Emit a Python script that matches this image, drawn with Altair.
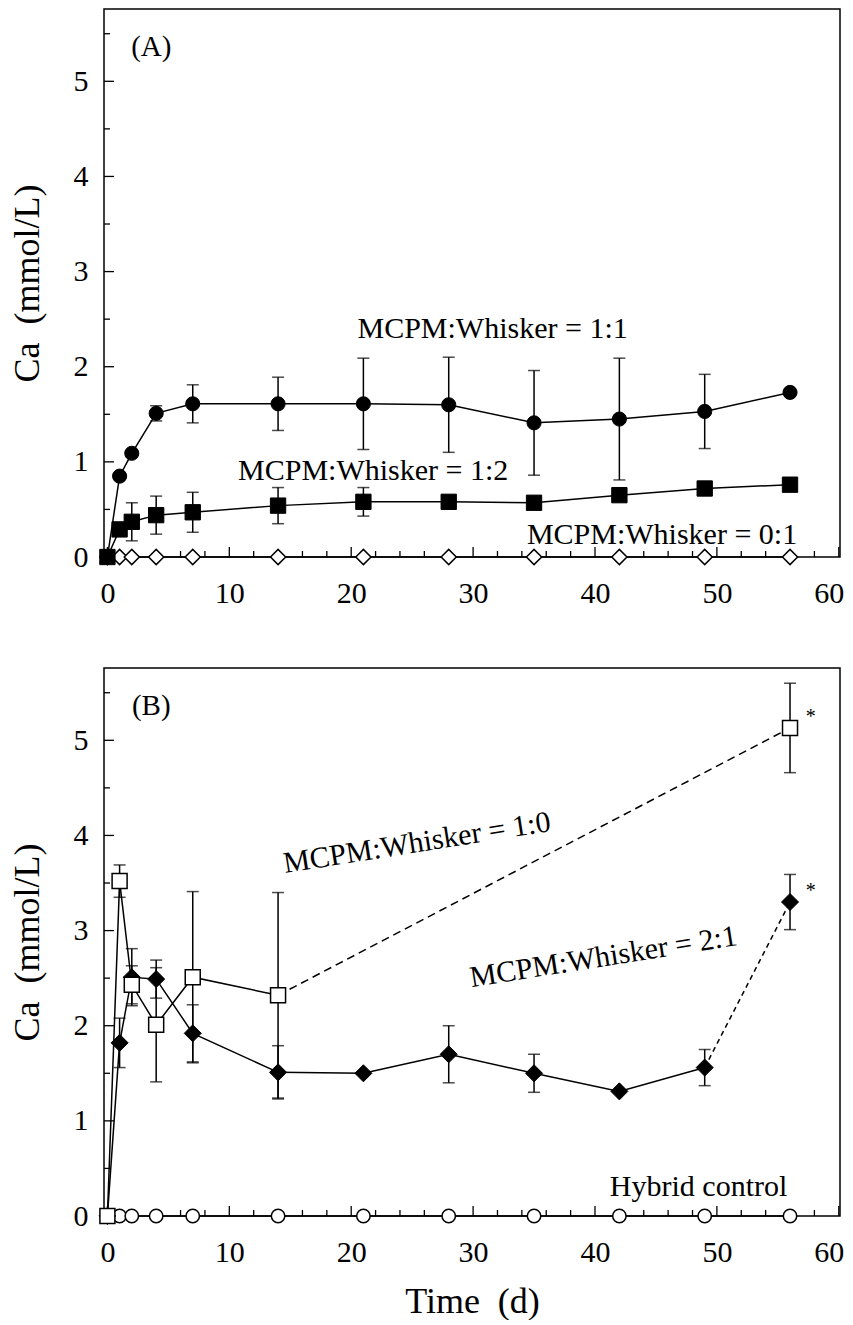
import altair as alt
import pandas as pd

FONT = "Liberation Serif, Times New Roman, Times, serif"

# ---------------- data ----------------
days = [0, 1, 2, 4, 7, 14, 21, 28, 35, 42, 49, 56]

# Panel A
a11_val = [0.00, 0.85, 1.09, 1.51, 1.61, 1.61, 1.61, 1.60, 1.41, 1.45, 1.53, 1.73]
a11_err = [0.00, 0.00, 0.00, 0.08, 0.20, 0.28, 0.48, 0.50, 0.55, 0.64, 0.39, 0.04]
a12_val = [0.00, 0.29, 0.37, 0.44, 0.47, 0.54, 0.58, 0.58, 0.57, 0.65, 0.72, 0.76]
a12_err = [0.00, 0.00, 0.20, 0.20, 0.21, 0.19, 0.15, 0.05, 0.00, 0.00, 0.00, 0.00]
a01_val = [0.00, 0.00, 0.00, 0.00, 0.00, 0.00, 0.00, 0.00, 0.00, 0.00, 0.00, 0.00]

# Panel B
b10_days = [0, 1, 2, 4, 7, 14, 56]
b10_val = [0.00, 3.52, 2.43, 2.01, 2.51, 2.32, 5.13]
b10_err = [0.00, 0.17, 0.20, 0.60, 0.90, 1.08, 0.47]
b21_val = [0.00, 1.82, 2.51, 2.49, 1.92, 1.51, 1.50, 1.70, 1.50, 1.31, 1.56, 3.30]
b21_err = [0.00, 0.26, 0.30, 0.20, 0.30, 0.28, 0.00, 0.30, 0.20, 0.00, 0.19, 0.29]
hyb_val = [0.00, 0.00, 0.00, 0.00, 0.00, 0.00, 0.00, 0.00, 0.00, 0.00, 0.00, 0.00]

# axis ticks
x_major = [0, 10, 20, 30, 40, 50, 60]
x_minor = [2, 4, 6, 8, 12, 14, 16, 18, 22, 24, 26, 28, 32, 34, 36, 38,
           42, 44, 46, 48, 52, 54, 56, 58]
y_major = [0, 1, 2, 3, 4, 5]
y_minor = [0.5, 1.5, 2.5, 3.5, 4.5, 5.5]

# ---------------- layout ----------------
W, H = 736, 548
xscale = alt.Scale(domain=[-0.28, 60.1], nice=False, zero=False)
yscale = alt.Scale(domain=[0, 5.76], nice=False, zero=False)


def xaxis(title):
    kw = dict(values=x_major, format="d", labelFont=FONT, labelFontSize=30,
              labelColor="black", ticks=False, domain=False, grid=False,
              labelPadding=21, minExtent=51, maxExtent=51,
              labelFlush=2, labelFlushOffset=5,
              titleFont=FONT, titleFontSize=36, titleFontWeight="normal",
              titleColor="black", titlePadding=17)
    return alt.Axis(title=title, **kw)


yaxis = alt.Axis(title="Ca\u00a0\u00a0(mmol/L)", values=y_major, format="d",
                 labelFont=FONT, labelFontSize=30, labelColor="black",
                 ticks=False, domain=False, grid=False, labelPadding=16,
                 minExtent=31, maxExtent=31, titleFont=FONT, titleFontSize=36,
                 titleFontWeight="normal", titleColor="black", titlePadding=27)


def X(field, title):
    return alt.X(f"{field}:Q", scale=xscale, axis=xaxis(title))


def Y(field):
    return alt.Y(f"{field}:Q", scale=yscale, axis=yaxis)


def series_df(d, v, e):
    df = pd.DataFrame({"day": d, "val": v, "err": e})
    df["lo"] = df["val"] - df["err"]
    df["hi"] = df["val"] + df["err"]
    return df


def tick_layers(xt):
    L = []
    L.append(alt.Chart(pd.DataFrame({"v": y_major})).mark_rule(color="black", strokeWidth=1.3)
             .encode(y=Y("v"), x=alt.value(0), x2=alt.value(10)))
    L.append(alt.Chart(pd.DataFrame({"v": y_minor})).mark_rule(color="black", strokeWidth=1.3)
             .encode(y=Y("v"), x=alt.value(0), x2=alt.value(6)))
    L.append(alt.Chart(pd.DataFrame({"v": x_major})).mark_rule(color="black", strokeWidth=1.3)
             .encode(x=X("v", xt), y=alt.value(H), y2=alt.value(H - 10)))
    L.append(alt.Chart(pd.DataFrame({"v": x_minor})).mark_rule(color="black", strokeWidth=1.3)
             .encode(x=X("v", xt), y=alt.value(H), y2=alt.value(H - 6)))
    return L


def err_layers(df, xt):
    base = alt.Chart(df).transform_filter("datum.err > 0")
    return [
        base.mark_rule(color="black", strokeWidth=1.5).encode(x=X("day", xt), y=Y("lo"), y2="hi:Q"),
        base.mark_tick(color="black", orient="horizontal", size=12, thickness=1.5)
            .encode(x=X("day", xt), y=Y("lo")),
        base.mark_tick(color="black", orient="horizontal", size=12, thickness=1.5)
            .encode(x=X("day", xt), y=Y("hi")),
    ]


def line(df, xt, dash=None, flt=None):
    c = alt.Chart(df)
    if flt:
        c = c.transform_filter(flt)
    kw = dict(color="black", strokeWidth=1.5)
    if dash:
        kw["strokeDash"] = dash
    return c.mark_line(**kw).encode(x=X("day", xt), y=Y("val"), order="day:Q")


def points(df, xt, shape, size, filled):
    if filled:
        m = alt.Chart(df).mark_point(shape=shape, size=size, filled=True, fill="black",
                                      stroke="black", strokeWidth=1, opacity=1)
    else:
        m = alt.Chart(df).mark_point(shape=shape, size=size, filled=True, fill="white",
                                      stroke="black", strokeWidth=1.5, opacity=1)
    return m.encode(x=X("day", xt), y=Y("val"))


def label(text, x, y, xt, size=30, angle=0, align="center"):
    df = pd.DataFrame({"day": [x], "val": [y], "t": [text]})
    kw = dict(font=FONT, fontSize=size, color="black", align=align, baseline="middle")
    if angle:
        kw["angle"] = angle
    return alt.Chart(df).mark_text(**kw).encode(x=X("day", xt), y=Y("val"), text="t:N")


# ---------------- panel A ----------------
XA = None
dfA11 = series_df(days, a11_val, a11_err)
dfA12 = series_df(days, a12_val, a12_err)
dfA01 = series_df(days, a01_val, [0] * len(days))

layersA = tick_layers(XA)
layersA += [line(dfA01, XA), points(dfA01, XA, "diamond", 230, False)]
layersA += err_layers(dfA12, XA) + [line(dfA12, XA), points(dfA12, XA, "square", 235, True)]
layersA += err_layers(dfA11, XA) + [line(dfA11, XA), points(dfA11, XA, "circle", 200, True)]
layersA += [
    label("(A)", 3.6, 5.36, XA, size=29),
    label("MCPM:Whisker = 1:1", 31.6, 2.40, XA),
    label("MCPM:Whisker = 1:2", 21.8, 0.90, XA),
    label("MCPM:Whisker = 0:1", 45.5, 0.23, XA),
]
panelA = alt.layer(*layersA).properties(width=W, height=H)

# ---------------- panel B ----------------
XT = "Time\u00a0\u00a0(d)"
dfB10 = series_df(b10_days, b10_val, b10_err)
dfB21 = series_df(days, b21_val, b21_err)
dfHY = series_df(days, hyb_val, [0] * len(days))

layersB = tick_layers(XT)
layersB += [line(dfHY, XT), points(dfHY, XT, "circle", 180, False)]
layersB += err_layers(dfB21, XT) + [
    line(dfB21, XT, flt="datum.day <= 49"),
    line(dfB21, XT, dash=[5, 4], flt="datum.day >= 49"),
    points(dfB21, XT, "diamond", 290, True),
]
layersB += err_layers(dfB10, XT) + [
    line(dfB10, XT, flt="datum.day <= 14"),
    line(dfB10, XT, dash=[8, 5], flt="datum.day >= 14"),
    points(dfB10, XT, "square", 225, False),
]
layersB += [
    label("(B)", 3.6, 5.36, XT, size=29),
    label("MCPM:Whisker = 1:0", 25.4, 3.92, XT, angle=351),
    label("MCPM:Whisker = 2:1", 40.7, 2.72, XT, angle=351),
    label("Hybrid control", 48.5, 0.30, XT),
    label("*", 57.3, 5.25, XT, size=20, align="left"),
    label("*", 57.3, 3.42, XT, size=20, align="left"),
]
panelB = alt.layer(*layersB).properties(width=W, height=H)

chart = (
    alt.vconcat(panelA, panelB, spacing=58)
    .configure_view(stroke="black", strokeWidth=1.5)
    .properties(padding={"left": 0, "top": 0, "right": 0, "bottom": 0}, background="white")
)

chart.save("out.html", embed_options={"renderer": "svg", "actions": False})
